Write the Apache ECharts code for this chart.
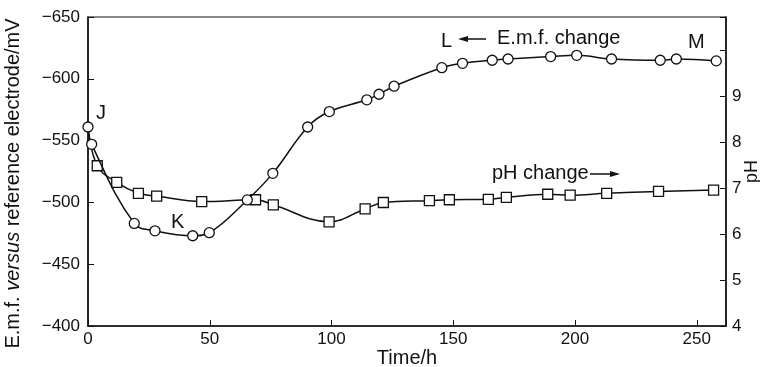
<!DOCTYPE html>
<html>
<head>
<meta charset="utf-8">
<script src="https://cdn.jsdelivr.net/npm/echarts@6/dist/echarts.min.js"></script>
<style>
  html, body { margin: 0; padding: 0; background: #fff; }
  #chart { width: 760px; height: 367px; }
</style>
</head>
<body>
<div id="chart"></div>
<script>
// e.m.f. readings (circles), time in h, e.m.f. in mV
const emfTime = [0, 1.5, 19, 27.5, 43, 49.8, 65.4, 75.9, 90.2, 99.1, 114.5, 119.5, 125.7, 145.3, 153.8, 166, 172.5, 190, 200.7, 215, 235, 241.6, 258]
const emfValue = [-561, -547, -483, -477, -473, -475.5, -502, -523.5, -561, -573.5, -583, -587.5, -594, -609, -612.5, -615, -616, -618, -619, -616, -615, -616, -614.5]

// pH readings (squares); the first point is where the curve leaves J, no marker
const phTime = [0, 3.8, 11.8, 20.7, 28.2, 46.7, 68.8, 76.1, 99, 113.8, 121.3, 140.2, 148.4, 164.4, 171.8, 188.8, 198, 213, 234.3, 256.9]
const phValue = [8.34, 7.49, 7.13, 6.89, 6.83, 6.71, 6.75, 6.64, 6.27, 6.55, 6.69, 6.73, 6.75, 6.76, 6.80, 6.87, 6.85, 6.89, 6.93, 6.96]

const timeTicks = [0, 50, 100, 150, 200, 250]
const emfTicks = [-650, -600, -550, -500, -450, -400]
const phTicks = [4, 5, 6, 7, 8, 9]

const font = 'Liberation Sans'
const ink = '#111'

const emfData = emfTime.map((t, i) => [t, emfValue[i]])
const phData = phTime.map((t, i) => {
  if (i === 0) return { value: [t, phValue[i]], symbol: 'none' }
  return [t, phValue[i]]
})

function note(x, y, text) {
  return {
    type: 'text',
    x: x,
    y: y,
    style: { text: text, font: '20px "' + font + '"', fill: ink, verticalAlign: 'middle' }
  }
}

const option = {
  animation: false,
  backgroundColor: '#fff',
  grid: {
    left: 88,
    right: 34,
    top: 17,
    bottom: 41,
    show: true,
    borderColor: ink,
    borderWidth: 1.2,
    outerBoundsMode: 'none'
  },
  xAxis: {
    type: 'value',
    min: 0,
    max: 262,
    interval: 50,
    name: 'Time/h',
    nameLocation: 'middle',
    nameGap: 22,
    nameMoveOverlap: false,
    nameTextStyle: { fontFamily: font, fontSize: 20, color: ink },
    axisLine: { lineStyle: { color: ink, width: 1.5 } },
    axisTick: { inside: true, length: 6, lineStyle: { color: ink } },
    axisLabel: {
      fontFamily: font, fontSize: 17, color: ink, margin: 5,
      formatter: v => timeTicks.includes(v) ? String(v) : ''
    },
    splitLine: { show: false }
  },
  yAxis: [{
    type: 'value',
    min: -650,
    max: -400,
    interval: 50,
    inverse: true,
    name: '{n|E.m.f. }{i|versus}{n| reference electrode/mV}',
    nameLocation: 'middle',
    nameGap: 65,
    nameRotate: 90,
    nameMoveOverlap: false,
    nameTextStyle: {
      padding: [0, 24, 0, 0],
      rich: {
        n: { fontFamily: font, fontSize: 20, color: ink },
        i: { fontFamily: font, fontSize: 20, color: ink, fontStyle: 'italic' }
      }
    },
    axisLine: { show: true, lineStyle: { color: ink, width: 1.5 } },
    axisTick: { show: true, inside: true, length: 6, lineStyle: { color: ink } },
    axisLabel: {
      fontFamily: font, fontSize: 17, color: ink, margin: 8,
      formatter: v => emfTicks.includes(v) ? '\u2212' + Math.abs(v) : ''
    },
    splitLine: { show: false }
  }, {
    type: 'value',
    position: 'right',
    min: 4,
    max: 10.73,
    interval: 1,
    name: 'pH',
    nameLocation: 'middle',
    nameGap: 17,
    nameRotate: 90,
    nameMoveOverlap: false,
    nameTextStyle: { fontFamily: font, fontSize: 18, color: ink },
    axisLine: { show: true, lineStyle: { color: ink, width: 1.5 } },
    axisTick: { show: true, inside: true, length: 6, lineStyle: { color: ink } },
    axisLabel: {
      fontFamily: font, fontSize: 17, color: ink, margin: 6,
      formatter: v => phTicks.includes(v) ? String(v) : ''
    },
    splitLine: { show: false }
  }],
  series: [{
    name: 'E.m.f. change',
    type: 'line',
    yAxisIndex: 0,
    data: emfData,
    smooth: 0.4,
    symbol: 'circle',
    symbolSize: 10,
    lineStyle: { color: ink, width: 1.5 },
    itemStyle: { color: '#fff', borderColor: ink, borderWidth: 1.3 },
    z: 3
  }, {
    name: 'pH change',
    type: 'line',
    yAxisIndex: 1,
    data: phData,
    smooth: 0.4,
    symbol: 'rect',
    symbolSize: 10,
    lineStyle: { color: ink, width: 1.5 },
    itemStyle: { color: '#fff', borderColor: ink, borderWidth: 1.3 },
    z: 2
  }],
  graphic: [
    note(96, 113, 'J'),
    note(171, 222, 'K'),
    note(441, 41, 'L'),
    note(497, 38, 'E.m.f. change'),
    note(688, 42, 'M'),
    note(492, 173, 'pH change'),
    { type: 'line', shape: { x1: 464, y1: 39, x2: 486, y2: 39 }, style: { stroke: ink, lineWidth: 1.5 } },
    { type: 'polygon', shape: { points: [[458, 39], [468, 36], [468, 42]] }, style: { fill: ink } },
    { type: 'line', shape: { x1: 590, y1: 174, x2: 612, y2: 174 }, style: { stroke: ink, lineWidth: 1.5 } },
    { type: 'polygon', shape: { points: [[620, 174], [610, 171], [610, 177]] }, style: { fill: ink } }
  ]
}

const myChart = echarts.init(document.getElementById('chart'))
myChart.setOption(option)
window.addEventListener('resize', function() {
  myChart.resize()
})
</script>
</body>
</html>
